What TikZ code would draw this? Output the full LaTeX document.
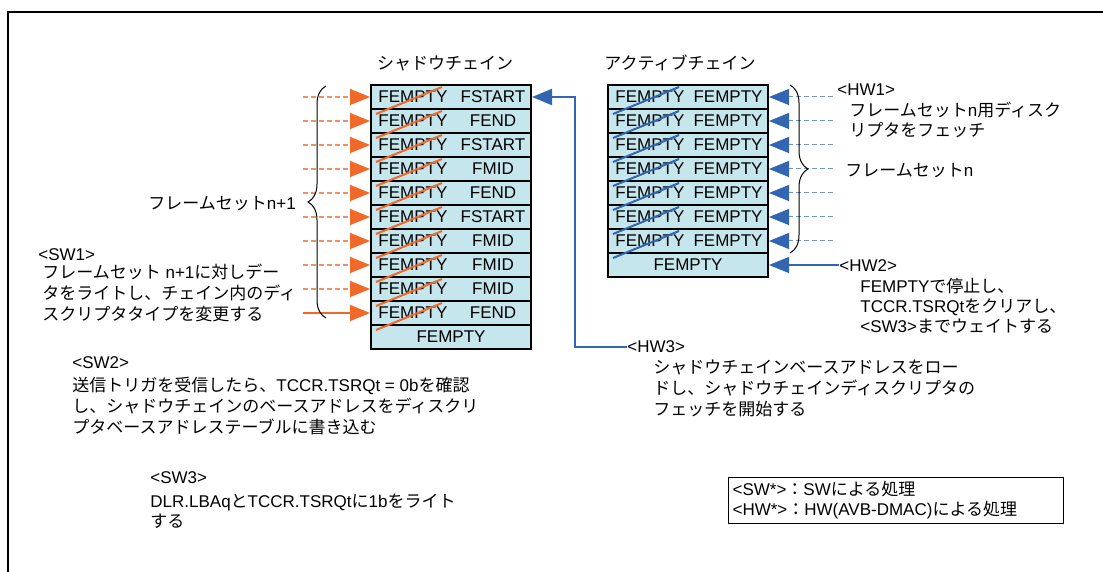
\documentclass[tikz,border=0pt]{standalone}
\usepackage{fontspec}
\setmainfont{Liberation Sans}
\newfontfamily\jpfont{Noto Sans CJK JP}
\newcommand{\jtxt}[1]{{\jpfont #1}}
\usepackage{tikz}
\usetikzlibrary{arrows.meta, positioning, calc, decorations.pathreplacing}
\definecolor{myorange}{RGB}{240,105,40}
\definecolor{myblue}{RGB}{51,102,178}
\definecolor{cellblue}{RGB}{196,230,236}
\tikzset{
  cell/.style={rectangle, draw=black, fill=cellblue, line width=1pt,
    minimum width=80pt, minimum height=12pt, inner sep=0pt,
    font=\fontsize{8.5}{10}\selectfont},
  celltxt/.style={inner sep=0pt, font=\fontsize{8.5}{10}\selectfont},
  txt/.style={inner sep=0pt, align=left, font=\fontsize{8.5}{10.5}\selectfont},
  title/.style={inner sep=0pt, font=\fontsize{8.5}{10}\selectfont},
  legend/.style={rectangle, draw=black, line width=0.6pt, inner sep=2pt,
    text width=163.5pt, align=left, font=\fontsize{8.5}{10}\selectfont},
  orgarrow/.style={-{Triangle[length=10pt,width=8pt,color=myorange]}, color=myorange, line width=0.7pt},
  bluarrow/.style={-{Triangle[length=10pt,width=8pt,color=myblue]}, color=myblue, line width=0.6pt},
  orgdash/.style={orgarrow, draw=myorange!75, dash pattern=on 2.5pt off 1.5pt, line width=0.6pt},
  bludash/.style={bluarrow, draw=myblue!70, dash pattern=on 2.5pt off 1.5pt, line width=0.5pt},
  ostrike/.style={color=myorange, line width=1pt},
  bstrike/.style={color=myblue, line width=1pt},
  brc/.style={decorate, decoration={brace, amplitude=9pt}, line width=0.5pt},
  frame/.style={line width=0.75pt}
}

\begin{document}
\begin{tikzpicture}[x=0.5pt, y=-0.5pt]
  \useasboundingbox (0,0) rectangle (1103,572);

  % outer frame (cut at right and bottom)
  \coordinate (fbl) at (8,580);
  \coordinate (ftl) at (8,12);
  \coordinate (ftr) at (1110,12);
  \draw[frame] (fbl) -- (ftl) -- (ftr);

  % chain titles
  \node[title] (stitle) at (445,63) {\jtxt{シャドウチェイン}};
  \node[title] (atitle) at (680,63) {\jtxt{アクティブチェイン}};

  % shadow chain
  \foreach \t [count=\i] in {FSTART,FEND,FSTART,FMID,FEND,FSTART,FMID,FMID,FMID,FEND} {
    \node[cell] (s\i) at (451,73+24*\i) {};
    \node[celltxt, anchor=west] (sl\i) at ($(s\i.west)+(8,0)$) {FEMPTY};
    \node[celltxt] (sr\i) at ($(s\i.center)+(42,0)$) {\t};
  }
  \node[cell] (s11) at (451,337) {FEMPTY};
  \foreach \i in {1,...,10}
    \draw[ostrike] ($(s\i.south west)+(6,4)$) -- ($(s\i.north west)+(72,3)$);

  % active chain
  \foreach \i in {1,...,7} {
    \node[cell] (a\i) at (688,73+24*\i) {};
    \node[celltxt, anchor=west] (al\i) at ($(a\i.west)+(8,0)$) {FEMPTY};
    \node[celltxt] (ar\i) at ($(a\i.center)+(40,0)$) {FEMPTY};
  }
  \node[cell] (a8) at (688,265) {FEMPTY};
  \foreach \i in {1,...,7}
    \draw[bstrike] ($(a\i.south west)+(6,4)$) -- ($(a\i.north west)+(72,3)$);

  % SW writes into the shadow chain
  \foreach \i in {1,...,9} {
    \coordinate (o\i) at (303,73+24*\i);
    \draw[orgdash] (o\i) -- (s\i.west);
  }
  \coordinate (o10) at (303,313);
  \draw[orgarrow] (o10) -- (s10.west);

  % HW fetches from the active chain
  \foreach \i in {1,...,7} {
    \coordinate (b\i) at (833,73+24*\i);
    \draw[bludash] (b\i) -- (a\i.east);
  }

  % braces
  \coordinate (nb) at (326,318);
  \coordinate (nt) at (326,86);
  \draw[brc] (nb) -- (nt);
  \coordinate (mt) at (790,85);
  \coordinate (mb) at (790,253);
  \draw[brc] (mt) -- (mb);

  % SW side texts
  \node[txt, anchor=west] (setn1) at (148,204) {\jtxt{フレームセット}n+1};
  \node[txt, anchor=west] (sw1) at (38,255) {<SW1>};
  \node[txt, anchor=north west] (sw1txt) at (42,264)
    {\jtxt{フレームセット} n+1\jtxt{に対しデー}\\
     \jtxt{タをライトし、チェイン内のディ}\\
     \jtxt{スクリプタタイプを変更する}};
  \node[txt, anchor=west] (sw2) at (72,363) {<SW2>};
  \node[txt, anchor=north west] (sw2txt) at (72,377)
    {\jtxt{送信トリガを受信したら、}TCCR.TSRQt = 0b\jtxt{を確認}\\
     \jtxt{し、シャドウチェインのベースアドレスをディスクリ}\\
     \jtxt{プタベースアドレステーブルに書き込む}};
  \node[txt, anchor=west] (sw3) at (150,478) {<SW3>};
  \node[txt, anchor=north west, font=\fontsize{8.5}{10}\selectfont] (sw3txt) at (150,494)
    {DLR.LBAq\jtxt{と}TCCR.TSRQt\jtxt{に}1b\jtxt{をライト}\\
     \jtxt{する}};

  % HW side texts
  \node[txt, anchor=west] (hw1) at (837,90) {<HW1>};
  \node[txt, anchor=north west, font=\fontsize{8.5}{10}\selectfont] (hw1txt) at (849,102)
    {\jtxt{フレームセット}n\jtxt{用ディスク}\\
     \jtxt{リプタをフェッチ}};
  \node[txt, anchor=west] (setn) at (845,171) {\jtxt{フレームセット}n};
  \node[txt, anchor=west] (hw2) at (839,266) {<HW2>};
  \node[txt, anchor=north west, font=\fontsize{8.5}{10}\selectfont] (hw2txt) at (860,278)
    {FEMPTY\jtxt{で停止し、}\\
     TCCR.TSRQt\jtxt{をクリアし、}\\
     <SW3>\jtxt{までウェイトする}};
  \node[txt, anchor=west] (hw3) at (627,347) {<HW3>};
  \node[txt, anchor=north west] (hw3txt) at (653,359)
    {\jtxt{シャドウチェインベースアドレスをロー}\\
     \jtxt{ドし、シャドウチェインディスクリプタの}\\
     \jtxt{フェッチを開始する}};

  \draw[bluarrow] (a8.east -| hw2.west) -- (a8.east);
  \draw[bluarrow, line width=1pt] (hw3.west) -- ++(-52,0) |- (s1.east);

  % legend
  \node[legend, anchor=north west] (legend) at (728,477)
    {<SW*>\jtxt{：}SW\jtxt{による処理}\\
     <HW*>\jtxt{：}HW(AVB-DMAC)\jtxt{による処理}};
\end{tikzpicture}
\end{document}
